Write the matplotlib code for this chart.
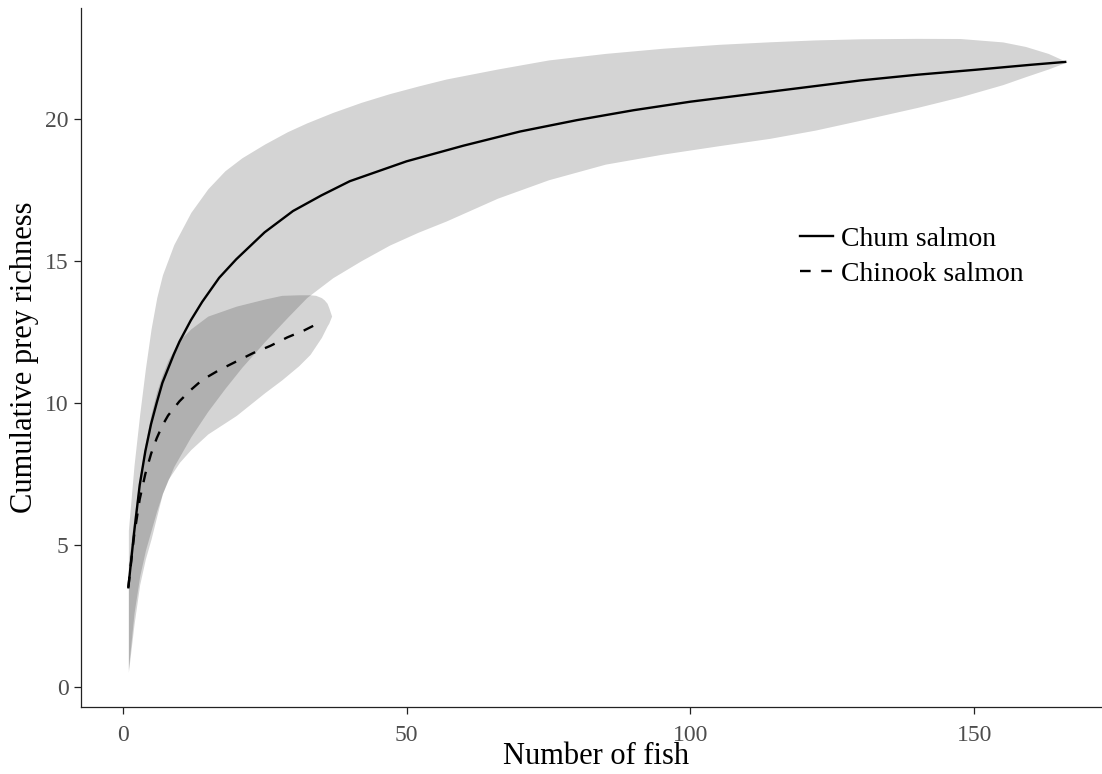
import numpy as np
import matplotlib
matplotlib.use("Agg")
import matplotlib.pyplot as plt

plt.rcParams['font.family'] = ['Liberation Serif', 'DejaVu Serif']

# rarefaction curves
chum_x = [1, 2, 3, 4, 5, 6, 7, 8, 9, 10, 12, 14, 17, 20, 25, 30, 35, 40, 45, 50,
          60, 70, 80, 90, 100, 110, 120, 130, 140, 150, 160, 166]
chum_y = [3.5, 5.4, 7.1, 8.3, 9.25, 10.0, 10.7, 11.2, 11.7, 12.15, 12.9, 13.55,
          14.4, 15.05, 16.0, 16.75, 17.3, 17.8, 18.15, 18.5, 19.05, 19.55,
          19.95, 20.3, 20.6, 20.85, 21.1, 21.35, 21.55, 21.72, 21.9, 22.0]

chinook_x = [1, 2, 3, 4, 5, 6, 7, 8, 10, 12, 14, 17, 20, 23, 26, 29, 32, 35]
chinook_y = [3.5, 5.3, 6.6, 7.5, 8.2, 8.75, 9.2, 9.55, 10.05, 10.45, 10.8,
             11.15, 11.45, 11.75, 12.0, 12.3, 12.55, 12.85]

# confidence bands
chum_band_x = [1, 1.5, 2, 3, 4, 5, 6, 7, 8, 9.5, 11, 14, 17, 20, 24, 30, 35, 40,
               46, 52, 57, 66, 75, 85, 95, 105, 114, 125, 135, 147, 152, 156,
               160, 163, 165, 166.3]
chum_hi = [5.5, 6.8, 7.8, 9.6, 11.2, 12.6, 13.7, 14.5, 15.1, 15.8, 16.4, 17.3,
           18.0, 18.5, 19.0, 19.65, 20.07, 20.45, 20.83, 21.15, 21.4, 21.75,
           22.07, 22.3, 22.48, 22.62, 22.71, 22.8, 22.83, 22.83, 22.78, 22.68,
           22.5, 22.3, 22.12, 22.0]
chum_lo_x = [1, 2, 3, 4, 5, 6, 7, 9, 12, 15, 18, 21, 25, 29, 32.4, 37, 42, 47,
             52, 57, 66, 75, 85, 95, 105, 114, 122, 130, 140, 147.5, 155, 159,
             163, 165, 166.3]
chum_lo = [0.6, 2.6, 3.9, 4.8, 5.5, 6.2, 6.8, 7.75, 8.8, 9.7, 10.5, 11.25,
           12.15, 13.0, 13.7, 14.4, 15.0, 15.55, 16.0, 16.4, 17.2, 17.85, 18.4,
           18.75, 19.05, 19.31, 19.6, 19.95, 20.4, 20.77, 21.2, 21.48, 21.75,
           21.9, 22.0]

chinook_band_x = [1, 2, 3, 4, 5, 6, 7, 8, 10, 12, 15, 20, 25, 28, 31, 33, 34,
                  35, 35.5, 36, 36.3, 36.8]
chinook_lo = [0.5, 2.2, 3.6, 4.5, 5.2, 6.0, 6.8, 7.3, 7.9, 8.35, 8.9, 9.55,
              10.35, 10.8, 11.3, 11.7, 12.0, 12.3, 12.5, 12.7, 12.8, 13.05]
chinook_hi = [4.3, 6.0, 7.4, 8.6, 9.6, 10.4, 11.0, 11.5, 12.2, 12.6, 13.05,
              13.4, 13.65, 13.78, 13.8, 13.8, 13.78, 13.7, 13.62, 13.5, 13.35,
              13.05]

labels = ['Chum salmon', 'Chinook salmon']

fig = plt.figure(figsize=(11.02, 7.74), dpi=100)
# panel runs a little past the right edge of the image, as in the reference
ax = fig.add_axes([0.0735, 0.0866, 0.9356, 0.9031])

ax.fill_between(chum_lo_x, chum_lo, np.interp(chum_lo_x, chum_band_x, chum_hi),
                color='black', alpha=0.17, lw=0)
ax.fill_between(chinook_band_x, chinook_lo, chinook_hi, color='black', alpha=0.17, lw=0)

ax.plot(chum_x, chum_y, color='black', lw=1.7, label=labels[0])
ax.plot(chinook_x, chinook_y, color='black', lw=1.7, ls=(0, (4.5, 4.5)), label=labels[1])

ax.set_xlim(-7.34, 174.25)
ax.set_ylim(-0.715, 23.9)
ax.set_xticks([0, 50, 100, 150])
ax.set_yticks([0, 5, 10, 15, 20])

for s in ['top', 'right']:
    ax.spines[s].set_visible(False)
for s in ['left', 'bottom']:
    ax.spines[s].set_linewidth(0.9)
    ax.spines[s].set_color('#222222')

ax.tick_params(labelsize=17, labelcolor='#4D4D4D', length=5, width=0.9,
               color='#222222')
ax.tick_params(axis='x', pad=8)
ax.tick_params(axis='y', pad=4)
ax.set_xlabel('Number of fish', fontsize=22, labelpad=-3)
ax.set_ylabel('Cumulative prey richness', fontsize=22, labelpad=4)

ax.legend(loc='upper left', bbox_to_anchor=(0.697, 0.687), frameon=False,
          fontsize=20, handlelength=1.2, handletextpad=0.3, borderpad=0,
          borderaxespad=0, labelspacing=0.32)

fig.savefig('out.png', dpi=100)
